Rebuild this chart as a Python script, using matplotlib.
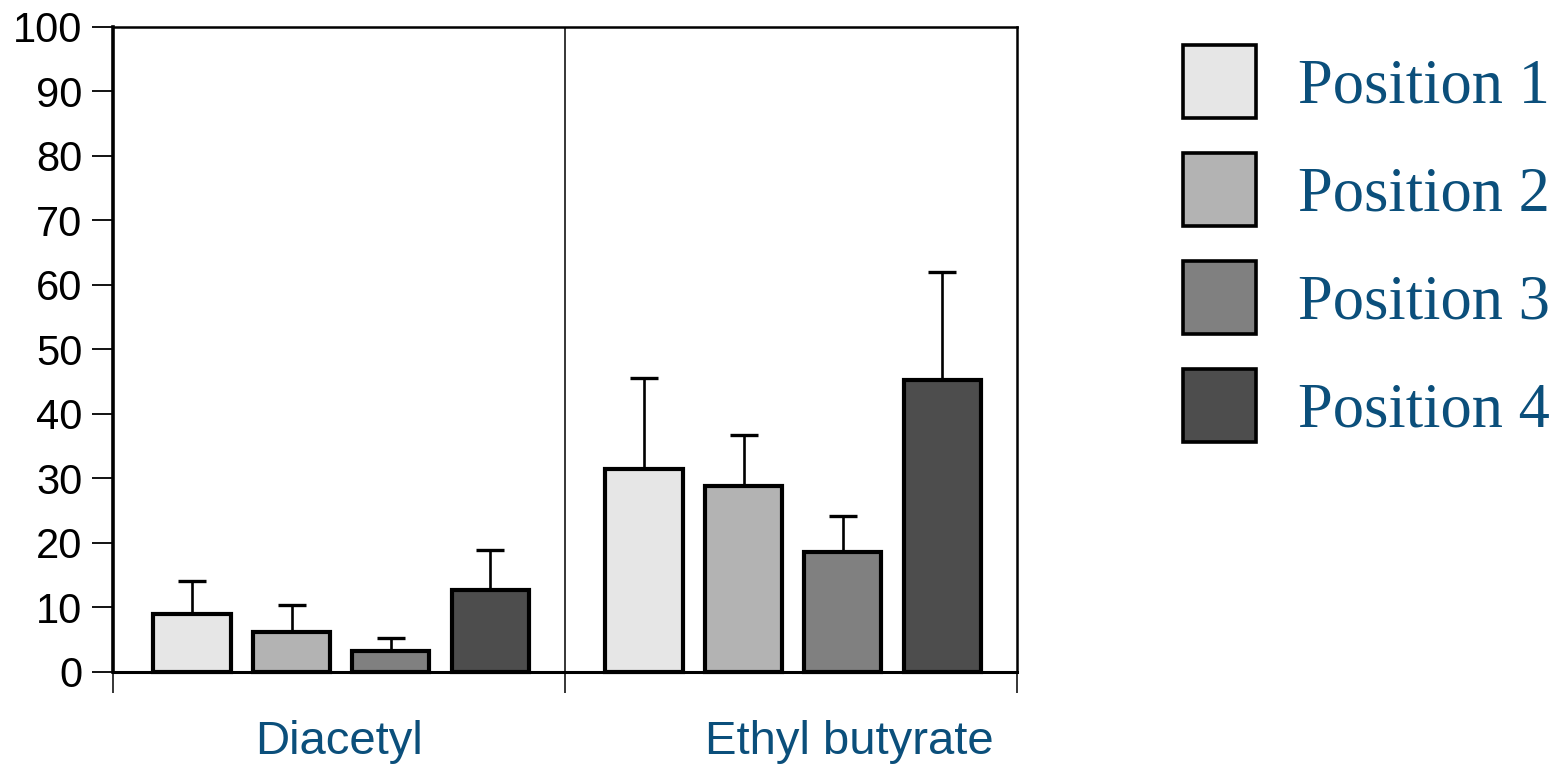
import numpy as np
import matplotlib.pyplot as plt
from matplotlib.patches import Patch
import matplotlib.transforms as mtransforms

# group labels and series
compounds = ["Diacetyl", "Ethyl butyrate"]
positions = ["Position 1", "Position 2", "Position 3", "Position 4"]
means = {
    "Position 1": [9.0, 31.5],
    "Position 2": [6.2, 28.8],
    "Position 3": [3.3, 18.6],
    "Position 4": [12.7, 45.3],
}
errors = {
    "Position 1": [5.1, 14.1],
    "Position 2": [4.2, 7.9],
    "Position 3": [2.0, 5.6],
    "Position 4": [6.2, 16.7],
}
label_x = [0.5, 1.63]

fills = ["#e6e6e6", "#b3b3b3", "#808080", "#4d4d4d"]
text_blue = "#0b4f7b"

fig = plt.figure(figsize=(15.67, 7.67), dpi=100)
ax = fig.add_axes([0.0721, 0.1239, 0.5769, 0.8409])

group_x = np.arange(len(compounds))
offsets = [0.175, 0.395, 0.614, 0.835]
width = 0.172

for k, pos in enumerate(positions):
    xs = group_x + offsets[k]
    ax.bar(xs, means[pos], width, color=fills[k], edgecolor="black",
           linewidth=3.0, zorder=3, clip_on=False)
    ax.errorbar(xs, means[pos], yerr=[np.zeros(len(xs)), errors[pos]],
                fmt="none", ecolor="black", elinewidth=1.9, capsize=10,
                capthick=2.4, zorder=2)

ax.set_xlim(0, 2)
ax.set_ylim(0, 100)
ax.axvline(1, color="black", linewidth=1.1, zorder=1)

# axis frame
ax.spines["left"].set_linewidth(2.6)
ax.spines["top"].set_linewidth(1.8)
ax.spines["right"].set_linewidth(1.8)
ax.spines["bottom"].set_linewidth(2.2)

ax.set_yticks(np.arange(0, 101, 10))
ax.tick_params(axis="y", direction="out", length=15, width=1.3,
               labelsize=30, pad=7)
for t in ax.get_yticklabels():
    t.set_fontfamily("Liberation Sans")

ax.set_xticks([0, 1, 2])
ax.set_xticklabels([])
ax.tick_params(axis="x", direction="out", length=15, width=1.1)

trans = mtransforms.blended_transform_factory(ax.transData, ax.transAxes)
for name, xpos in zip(compounds, label_x):
    ax.text(xpos, -0.108, name, transform=trans, ha="center", va="center",
            fontsize=34, color=text_blue, family="Liberation Sans")

handles = [Patch(facecolor=c, edgecolor="black", linewidth=2.6) for c in fills]
leg = ax.legend(handles, positions, loc="upper left",
                bbox_to_anchor=(1.1836, 0.972), frameon=False,
                prop={"family": "Liberation Serif", "size": 45},
                handlelength=1.17, handleheight=1.42, handletextpad=0.67,
                labelspacing=0.56, labelcolor=text_blue, borderaxespad=0,
                borderpad=0)

fig.savefig("out.png", dpi=100)
